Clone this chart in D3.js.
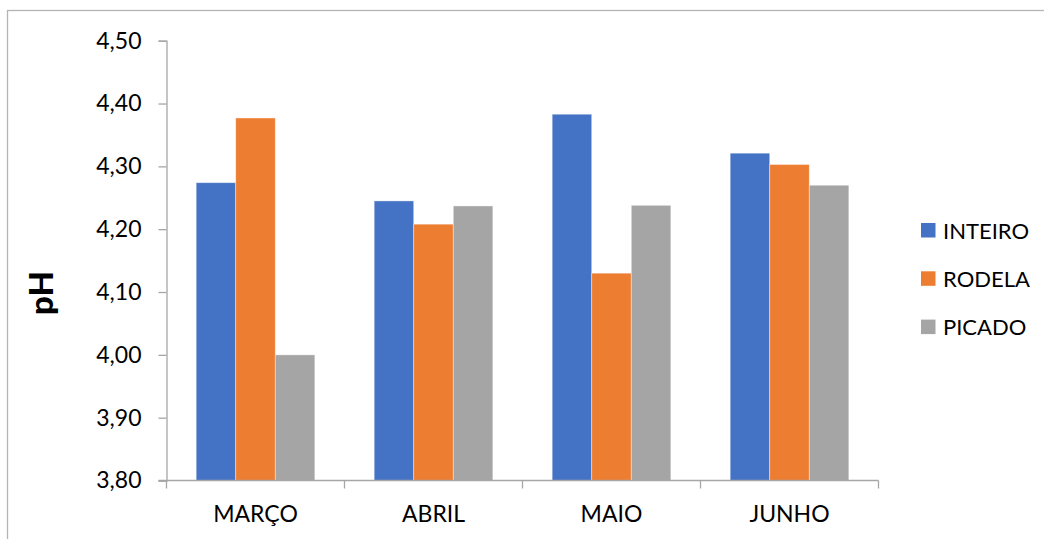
<!DOCTYPE html>
<html>
<head>
<meta charset="utf-8">
<script src="https://cdn.jsdelivr.net/npm/d3@7"></script>
<style>
  html, body { margin: 0; padding: 0; background: #fff; }
  svg { display: block; }
  text { font-family: Lato, "Open Sans", sans-serif; fill: #000; }
</style>
</head>
<body>
<svg id="chart" width="1044" height="539"></svg>
<script>
// Months on the category axis
const months = ["MARÇO", "ABRIL", "MAIO", "JUNHO"];
// Cut type of each series
const seriesNames = ["INTEIRO", "RODELA", "PICADO"];
// pH per month, one array per series
const inteiro = [4.274, 4.245, 4.383, 4.321];
const rodela  = [4.377, 4.208, 4.130, 4.303];
const picado  = [4.000, 4.237, 4.238, 4.270];
// Value axis ticks
const yTicks = [3.80, 3.90, 4.00, 4.10, 4.20, 4.30, 4.40, 4.50];
const yTitle = "pH";

const colors = ["#4472C4", "#ED7D31", "#A5A5A5"];
const seriesValues = [inteiro, rodela, picado];

const svg = d3.select("#chart");

// Outer chart frame (runs past the right and bottom edges)
svg.append("rect")
  .attr("x", 7.5).attr("y", 10.5)
  .attr("width", 1100).attr("height", 600)
  .attr("fill", "none").attr("stroke", "#b4b4b4").attr("stroke-width", 1.3);

const plot = { left: 166.5, right: 878.5, top: 40.7, bottom: 480.5 };

const x0 = d3.scaleBand().domain(months).range([plot.left, plot.right]).paddingInner(0).paddingOuter(0);
// Excel-like gap width of 150%: bar = band / 4.5, group offset = 0.75 bar
const barW = x0.bandwidth() / 4.5;
const x1 = d3.scaleBand().domain(seriesNames)
  .range([barW * 0.75, barW * 0.75 + barW * 3]).padding(0);

const y = d3.scaleLinear().domain([3.80, 4.50]).range([plot.bottom, plot.top]);

const fmt = v => d3.format(".2f")(v).replace(".", ",");

// Bars
const groups = svg.append("g").selectAll("g")
  .data(months)
  .join("g")
  .attr("transform", d => `translate(${x0(d)},0)`);

groups.selectAll("rect")
  .data((m, i) => seriesNames.map((s, j) => ({ s, j, v: seriesValues[j][i] })))
  .join("rect")
  .attr("x", d => x1(d.s))
  .attr("y", d => y(d.v))
  .attr("width", x1.bandwidth())
  .attr("height", d => y(3.80) - y(d.v))
  .attr("fill", d => colors[d.j])
  .attr("stroke", "#ffffff")
  .attr("stroke-opacity", 0.5)
  .attr("stroke-width", 0.8);

// Value axis
const yAxis = d3.axisLeft(y).tickValues(yTicks).tickFormat(fmt).tickSize(8).tickPadding(17);
const gy = svg.append("g").attr("transform", `translate(${plot.left},0)`).call(yAxis);
gy.select(".domain").attr("stroke", "#a6a6a6").attr("stroke-width", 1.3);
gy.selectAll(".tick line").attr("stroke", "#a6a6a6").attr("stroke-width", 1.3);
gy.selectAll(".tick text").attr("font-size", 23).attr("font-family", "Lato, sans-serif").attr("fill", "#000");

// Category axis: ticks sit between the months
const xAxis = d3.axisBottom(x0).tickSize(0).tickPadding(25);
const gx = svg.append("g").attr("transform", `translate(0,${plot.bottom})`).call(xAxis);
gx.select(".domain").remove();
gx.append("line")
  .attr("x1", plot.left - 8).attr("x2", plot.right)
  .attr("stroke", "#a6a6a6").attr("stroke-width", 1.3);
gx.selectAll(".sep")
  .data(d3.range(months.length + 1))
  .join("line")
  .attr("class", "sep")
  .attr("x1", i => plot.left + i * x0.bandwidth())
  .attr("x2", i => plot.left + i * x0.bandwidth())
  .attr("y1", 0).attr("y2", 8)
  .attr("stroke", "#a6a6a6").attr("stroke-width", 1.3);
gx.selectAll(".tick text").attr("font-size", 23).attr("font-family", "Lato, sans-serif").attr("fill", "#000");

// Axis title
svg.append("text")
  .attr("transform", `translate(53,293) rotate(-90)`)
  .attr("text-anchor", "middle")
  .attr("font-size", 33)
  .attr("font-weight", 900)
  .text(yTitle);

// Legend
const legend = svg.append("g").selectAll("g")
  .data(seriesNames)
  .join("g")
  .attr("transform", (d, i) => `translate(921,${223 + i * 48.3})`);
legend.append("rect")
  .attr("width", 14.5).attr("height", 14.5)
  .attr("fill", (d, i) => colors[i]);
legend.append("text")
  .attr("x", 22).attr("y", 15.5)
  .attr("font-size", 22)
  .text(d => d);
</script>
</body>
</html>
